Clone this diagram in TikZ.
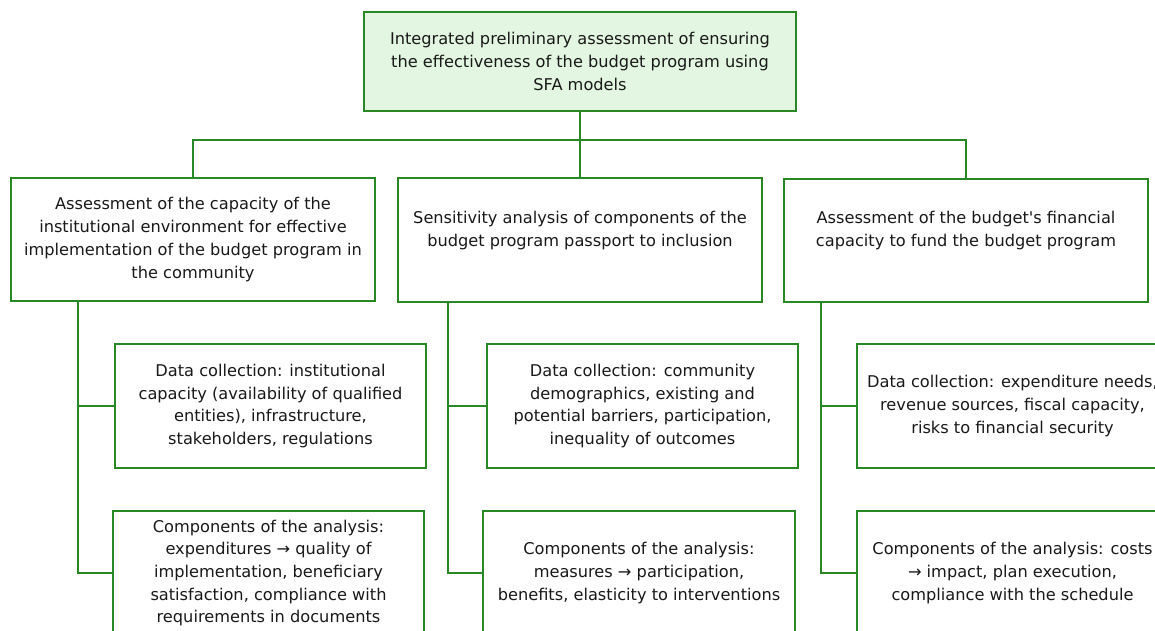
\documentclass[tikz,border=0pt]{standalone}
\usepackage{fontspec}
\setmainfont{DejaVu Sans}[Ligatures=TeXOff]
\definecolor{bgreen}{RGB}{40,136,36}
\definecolor{lgreen}{RGB}{227,246,225}
\definecolor{txt}{RGB}{25,25,25}
\begin{document}
\begin{tikzpicture}[x=1pt,y=-1pt,
  box/.style={draw=bgreen,line width=1.5pt,fill=white,inner sep=0pt,align=center,
    text=txt,font=\fontsize{16.2}{22.7}\selectfont},
  conn/.style={draw=bgreen,line width=1.5pt}]
\useasboundingbox (0,0) rectangle (1155,630);
\clip (0,0) rectangle (1155,630);
% top
\node[box,fill=lgreen,minimum width=432pt,minimum height=99pt] (T) at (580,61.5)
  {Integrated preliminary assessment of ensuring\\the effectiveness of the budget program using\\SFA models};
% level 2
\node[box,minimum width=364pt,minimum height=123pt] (L) at (193,239.5)
  {Assessment of the capacity of the\\institutional environment for effective\\implementation of the budget program in\\the community};
\node[box,minimum width=364pt,minimum height=124pt] (M) at (580,240)
  {Sensitivity analysis of components of the\\budget program passport to inclusion\\\mbox{}};
\node[box,minimum width=364pt,minimum height=123pt] (R) at (966,240.5)
  {Assessment of the budget's financial\\capacity to fund the budget program\\\mbox{}};
% data boxes
\node[box,minimum width=311pt,minimum height=124pt] (LD) at (270.5,406)
  {Data collection: institutional\\capacity (availability of qualified\\entities), infrastructure,\\stakeholders, regulations};
\node[box,minimum width=311pt,minimum height=124pt] (MD) at (642.5,406)
  {Data collection: community\\demographics, existing and\\potential barriers, participation,\\inequality of outcomes};
\node[box,minimum width=311pt,minimum height=124pt] (RD) at (1012.5,406)
  {Data collection: expenditure needs,\\revenue sources, fiscal capacity,\\risks to financial security};
% component boxes
\node[box,minimum width=311pt,minimum height=124pt] (LC) at (268.5,573)
  {Components of the analysis:\\expenditures → quality of\\implementation, beneficiary\\satisfaction, compliance with\\requirements in documents};
\node[box,minimum width=312pt,minimum height=124pt] (MC) at (639,573)
  {Components of the analysis:\\measures → participation,\\benefits, elasticity to interventions};
\node[box,minimum width=311pt,minimum height=124pt] (RC) at (1012.5,573)
  {Components of the analysis: costs\\→ impact, plan execution,\\compliance with the schedule};
% connectors
\coordinate (hb) at (580,140);
\draw[conn] (T.south) -- (M.north);
\draw[conn] (L.north) |- (hb) -| (R.north);
\coordinate (lx) at (78,0);
\coordinate (mx) at (448,0);
\coordinate (rx) at (821,0);
\draw[conn] (L.south -| lx) |- (LC.west);
\draw[conn] (LD.west -| lx) -- (LD.west);
\draw[conn] (M.south -| mx) |- (MC.west);
\draw[conn] (MD.west -| mx) -- (MD.west);
\draw[conn] (R.south -| rx) |- (RC.west);
\draw[conn] (RD.west -| rx) -- (RD.west);
\end{tikzpicture}
\end{document}
